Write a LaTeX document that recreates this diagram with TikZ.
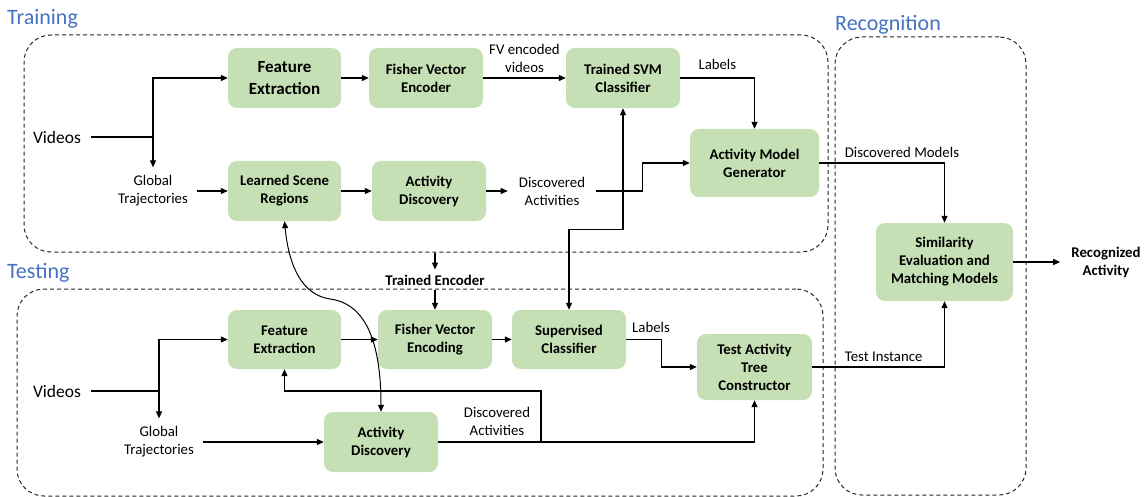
\documentclass[tikz,border=0pt]{standalone}
\usepackage{fontspec}
\setmainfont{Carlito}
\usetikzlibrary{arrows.meta,calc}
\definecolor{boxgreen}{HTML}{C5E0B4}
\definecolor{titleblue}{HTML}{4472C4}
\begin{document}
\begin{tikzpicture}[x=1pt,y=1pt,
  proc/.style={fill=boxgreen, rounded corners=9pt, align=center, inner sep=0pt,
    font=\fontsize{14.8}{18}\selectfont\bfseries, minimum width=114pt, minimum height=60pt},
  lbl/.style={align=center, font=\fontsize{14.8}{18}\selectfont, inner sep=3pt},
  boldlbl/.style={lbl, font=\fontsize{14.8}{18}\selectfont\bfseries},
  biglbl/.style={lbl, font=\fontsize{17.5}{21}\selectfont},
  ttl/.style={font=\fontsize{22}{26}\selectfont, text=titleblue, inner sep=0pt, anchor=west},
  grp/.style={draw=black!85, line width=1pt, dash pattern=on 4pt off 3pt, rounded corners=27pt, inner sep=0pt},
  ln/.style={draw, line width=1.2pt},
  arr/.style={ln, -{Triangle[length=7pt,width=6pt]}},
  arrtwo/.style={ln, {Triangle[length=7pt,width=6pt]}-{Triangle[length=7pt,width=6pt]}},
  curv/.style={draw, line width=1pt, {Triangle[length=7pt,width=6pt]}-{Triangle[length=7pt,width=6pt]}}
]
\fill[white] (0,0) rectangle (1145,-497);
\useasboundingbox (0,0) rectangle (1145,-497);

% groups
\node[grp, minimum width=804pt, minimum height=217pt] (train) at (426,-143.5) {};
\node[grp, minimum width=806pt, minimum height=207pt] (test) at (420,-392.5) {};
\node[grp, minimum width=191pt, minimum height=458pt] (recog) at (930.5,-266) {};

% titles
\node[ttl] (ttrain) at (7,-19) {Training};
\node[ttl] (ttest) at (7,-273) {Testing};
\node[ttl] (trecog) at (835,-25) {Recognition};

% training nodes
\node[proc, font=\fontsize{17}{21.5}\selectfont\bfseries, minimum width=113pt] (fe1) at (284.5,-78) {Feature\\Extraction};
\node[proc] (fve1) at (426,-78) {Fisher Vector\\Encoder};
\node[proc] (svm) at (623,-78) {Trained SVM\\Classifier};
\node[proc, minimum width=129pt, minimum height=68pt] (amg) at (754.5,-163) {Activity Model\\Generator};
\node[proc, minimum width=113pt] (lsr) at (284.5,-191) {Learned Scene\\Regions};
\node[proc] (ad1) at (429,-191) {Activity\\Discovery};
\node[biglbl, inner xsep=10pt] (vid1) at (57,-137) {Videos};
\node[lbl, inner xsep=9pt, inner ysep=8pt] (gt1) at (153,-191) {Global\\Trajectories};
\node[lbl, inner xsep=11pt] (da1) at (552,-191) {Discovered\\Activities};

% recognition nodes
\node[proc, minimum width=137pt, minimum height=78pt] (sim) at (944.5,-262) {Similarity\\Evaluation and\\Matching Models};
\node[boldlbl, inner xsep=11pt] (ra) at (1106,-262) {Recognized\\Activity};

% testing nodes
\node[boldlbl, inner ysep=5pt] (te) at (435,-280) {Trained Encoder};
\node[proc, minimum width=113pt, minimum height=59pt] (fe2) at (284.5,-339.5) {Feature\\Extraction};
\node[proc, minimum height=59pt] (fve2) at (435,-339.5) {Fisher Vector\\Encoding};
\node[proc, minimum height=59pt] (sc) at (569,-339.5) {Supervised\\Classifier};
\node[proc, minimum width=115pt, minimum height=66pt] (tatc) at (754.5,-367) {Test Activity\\Tree\\Constructor};
\node[proc] (ad2) at (381,-442) {Activity\\Discovery};
\node[biglbl, inner xsep=10pt] (vid2) at (57,-391) {Videos};
\node[lbl, inner xsep=9pt, inner ysep=8pt] (gt2) at (159,-442) {Global\\Trajectories};
\node[lbl] (da2) at (497,-421) {Discovered\\Activities};

% training connectors
\coordinate (j1) at (gt1.north |- vid1.east);
\draw[ln] (vid1.east) -- (j1);
\draw[arr] (j1) |- (fe1.west);
\draw[arr] (j1) -- (gt1.north);
\draw[arr] (gt1.east) -- (lsr.west);
\draw[arr] (fe1.east) -- (fve1.west);
\draw[arr] (lsr.east) -- (ad1.west);
\draw[arr] (ad1.east) -- (da1.west);
\draw[arr] (da1.east) -- ++(46,0) |- (amg.west);
\draw[arr] (fve1.east) -- node[lbl, above, inner sep=1pt, yshift=4pt]{FV encoded\\videos} (svm.west);
\draw[arr] (svm.east) -| node[lbl, pos=0.25, above, yshift=5pt]{Labels} (amg.north);
\draw[arr] (amg.east) -| node[lbl, pos=0.33, above, yshift=2pt]{Discovered Models} (sim.north);
\draw[arr] (sim.east) -- (ra.west);

% testing connectors
\coordinate (tb) at (te.north |- train.south);
\draw[arr] (tb) -- (te.north);
\draw[arr] (te.south) -- (fve2.north);
\coordinate (j2) at (gt2.north |- vid2.east);
\draw[ln] (vid2.east) -- (j2);
\draw[arr] (j2) |- (fe2.west);
\draw[arr] (j2) -- (gt2.north);
\draw[arr] (gt2.east) -- (ad2.west);
\draw[arr] (fe2.east) -- (fve2.west);
\draw[arr] (fve2.east) -- (sc.west);
\draw[arr] (sc.east) -- node[lbl, above, pos=0.71, yshift=3pt]{Labels} ++(35,0) |- (tatc.west);
\draw[arr] (ad2.east) -| (tatc.south);
\coordinate (b1) at (541,-442);
\coordinate (b2) at (541,-391);
\draw[arr] (b1) -- (b2) -| (fe2.south);
\draw[arrtwo] (sc.north) -- ++(0,80) -| (svm.south);
\draw[arr] (tatc.east) -| node[lbl, pos=0.27, above, yshift=2pt]{Test Instance} (sim.south);

% curved link
\draw[curv] (lsr.south) .. controls (289,-268) and (303,-295) .. (330,-299) .. controls (362,-303) and (381,-335) .. (ad2.north);
\end{tikzpicture}
\end{document}
